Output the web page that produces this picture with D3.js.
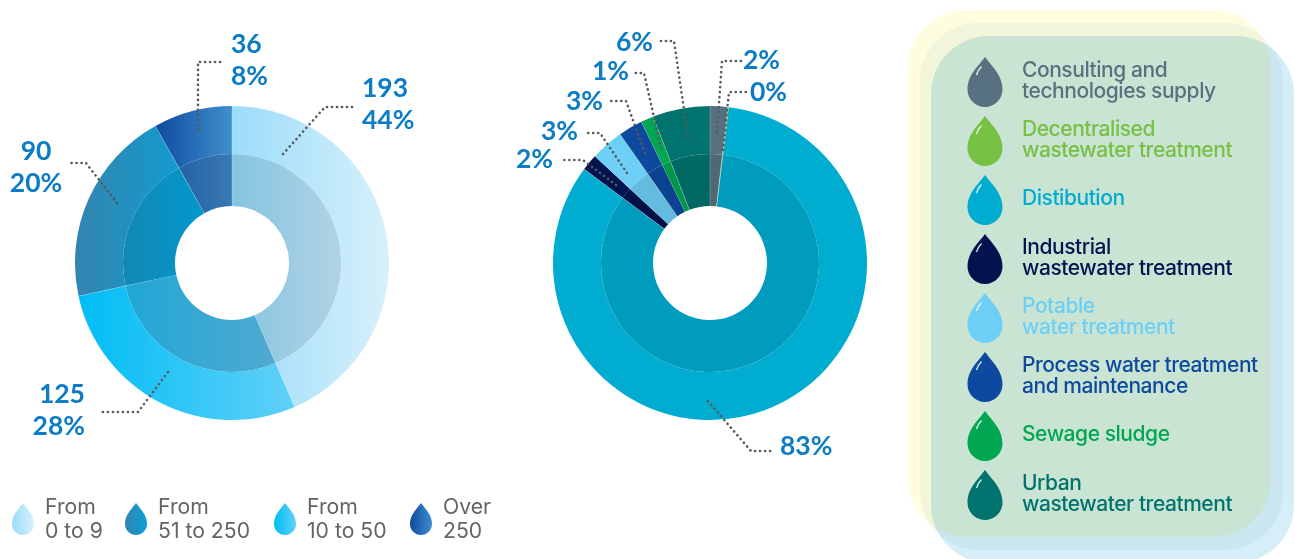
<!DOCTYPE html>
<html>
<head>
<meta charset="utf-8">
<script src="https://cdn.jsdelivr.net/npm/d3@7"></script>
<style>
  html, body { margin: 0; padding: 0; background: #fff; }
  svg { display: block; }
</style>
</head>
<body>
<script>
// left donut: plants by size
const sizeValues = [193, 125, 90, 36];
const sizeLabels = ['193', '125', '90', '36'];
const sizePercents = ['44%', '28%', '20%', '8%'];

// right donut: share by activity, same order as they go round clockwise from 12 o'clock
const activityValues = [1.8, 0.1, 83.3, 1.7, 3.4, 2.5, 1.3, 5.9];
const activityPercents = ['2%', '0%', '83%', '2%', '3%', '3%', '1%', '6%'];
const activityColors = ['#587180', '#76c043', '#00acd0', '#03134f', '#6dcff6', '#0d4a9f', '#00a651', '#00736f'];

const sizeLegendTop = ['From', 'From', 'From', 'Over'];
const sizeLegendBottom = ['0 to 9', '51 to 250', '10 to 50', '250'];

const activityLegend = [
  ['Consulting and', 'technologies supply'],
  ['Decentralised', 'wastewater treatment'],
  ['Distibution'],
  ['Industrial', 'wastewater treatment'],
  ['Potable', 'water treatment'],
  ['Process water treatment', 'and maintenance'],
  ['Sewage sludge'],
  ['Urban', 'wastewater treatment']
];
const legendOrder = [0, 1, 2, 3, 4, 5, 6, 7];

// gradient ends for the left donut, outer ring then inner ring
const sizeOuterStops = [['#9bdcf9', '#d8f0fb'], ['#00bdf5', '#62d0f8'], ['#3385ae', '#0aa0d8'], ['#0f4a9f', '#3f8fcd']];
const sizeInnerStops = [['#86c4e0', '#c2d9e6'], ['#12a6d8', '#56aacf'], ['#1d7ea6', '#0398cd'], ['#1a5a9e', '#3a78b2']];

const width = 1295;
const height = 559;
const rHole = 57;
const rMid = 109;
const rOuter = 157;
const leftCx = 232;
const rightCx = 710;
const cy = 263;
const labelBlue = '#0b7cc5';

const svg = d3.select('body').append('svg')
  .attr('width', width)
  .attr('height', height);
const defs = svg.append('defs');

const gradient = (id, stops, userBox) => {
  const g = defs.append('linearGradient').attr('id', id);
  if (userBox) {
    g.attr('gradientUnits', 'userSpaceOnUse')
      .attr('x1', userBox[0]).attr('x2', userBox[1]).attr('y1', 0).attr('y2', 0);
  }
  g.append('stop').attr('offset', 0).attr('stop-color', stops[0]);
  g.append('stop').attr('offset', 1).attr('stop-color', stops[1]);
};

// three panels of the same size stepped down to the right, multiplied together
const panels = [
  { x: 908, y: 10, fill: '#fffde0' },
  { x: 920, y: 23, fill: '#f1f7f7' },
  { x: 931, y: 36, fill: '#d6eef8' }
];
svg.append('g')
  .style('isolation', 'isolate')
  .selectAll('rect')
  .data(panels)
  .enter()
  .append('rect')
    .attr('x', d => d.x)
    .attr('y', d => d.y)
    .attr('width', 363)
    .attr('height', 527)
    .attr('rx', 58)
    .attr('fill', d => d.fill)
    .style('mix-blend-mode', 'multiply');

const pie = d3.pie().sort(null).startAngle(0).endAngle(2 * Math.PI);
const arcOuter = d3.arc().innerRadius(rMid).outerRadius(rOuter).padAngle(0.0015).padRadius(rOuter);
const arcInner = d3.arc().innerRadius(rHole).outerRadius(rMid).padAngle(0.0015).padRadius(rOuter);

// horizontal extent of a slice, the gradients run across it
const sliceBox = (d) => {
  const xs = [Math.sin(d.startAngle), Math.sin(d.endAngle)].map(s => s * rOuter);
  xs.push(Math.sin(d.startAngle) * rHole, Math.sin(d.endAngle) * rHole);
  if (d.startAngle < Math.PI / 2 && d.endAngle > Math.PI / 2) xs.push(rOuter);
  if (d.startAngle < 3 * Math.PI / 2 && d.endAngle > 3 * Math.PI / 2) xs.push(-rOuter);
  return [d3.min(xs), d3.max(xs)];
};

const leftG = svg.append('g').attr('transform', `translate(${leftCx},${cy})`);
const sizeArcs = pie(sizeValues);
sizeArcs.forEach((d, i) => {
  const box = sliceBox(d);
  gradient(`size-o-${i}`, sizeOuterStops[i], box);
  gradient(`size-i-${i}`, sizeInnerStops[i], box);
});
leftG.selectAll('path.outer')
  .data(sizeArcs)
  .enter()
  .append('path')
    .attr('class', 'outer')
    .attr('d', arcOuter)
    .attr('fill', (d, i) => `url(#size-o-${i})`);
leftG.selectAll('path.inner')
  .data(sizeArcs)
  .enter()
  .append('path')
    .attr('class', 'inner')
    .attr('d', arcInner)
    .attr('fill', (d, i) => `url(#size-i-${i})`);

const rightG = svg.append('g').attr('transform', `translate(${rightCx},${cy})`);
const activityArcs = pie(activityValues);
rightG.selectAll('path.outer')
  .data(activityArcs)
  .enter()
  .append('path')
    .attr('class', 'outer')
    .attr('d', arcOuter)
    .attr('fill', (d, i) => activityColors[i]);
rightG.selectAll('path.inner')
  .data(activityArcs)
  .enter()
  .append('path')
    .attr('class', 'inner')
    .attr('d', arcInner)
    .attr('fill', (d, i) => d3.color(activityColors[i]).darker(0.27));

// dotted leader lines, page coordinates
const sizeLeaders = [
  [[283, 154], [325, 107], [353, 107]],
  [[168, 372], [138, 412], [100, 412]],
  [[117, 203], [86, 163], [67, 163]],
  [[198, 130], [198, 62], [224, 62]]
];
const activityLeaders = [
  [[717, 132], [722, 61], [741, 61]],
  [[723, 150], [729, 92], [746, 92]],
  [[708, 401], [751, 451], [771, 451]],
  [[616, 185], [583, 160], [562, 160]],
  [[627, 173], [600, 133], [586, 133]],
  [[645, 153], [626, 101], [607, 101]],
  [[661, 148], [644, 73], [633, 73]],
  [[688, 137], [674, 41], [657, 41]]
];
const leaderLine = d3.line();
svg.append('g').selectAll('path')
  .data(sizeLeaders.concat(activityLeaders))
  .enter()
  .append('path')
    .attr('d', leaderLine)
    .attr('fill', 'none')
    .attr('stroke', '#58595b')
    .attr('stroke-width', 2.6)
    .attr('stroke-linecap', 'round')
    .attr('stroke-dasharray', '0.1 4.9');

// value labels
const sizeLabelPos = [
  { x: 362, y: 97, anchor: 'start' },
  { x: 85, y: 403, anchor: 'end' },
  { x: 36, y: 160, anchor: 'middle' },
  { x: 231, y: 53, anchor: 'start' }
];
const labelG = svg.append('g')
  .attr('font-family', 'Lato, sans-serif')
  .attr('font-weight', 700)
  .attr('font-size', 26.5)
  .attr('fill', labelBlue);
sizeLabelPos.forEach((p, i) => {
  labelG.append('text').attr('x', p.x).attr('y', p.y).attr('text-anchor', p.anchor).text(sizeLabels[i]);
  labelG.append('text').attr('x', p.x).attr('y', p.y + 32).attr('text-anchor', p.anchor).text(sizePercents[i]);
});
const activityLabelPos = [
  { x: 743, y: 69 }, { x: 750, y: 101 }, { x: 780, y: 455 }, { x: 516, y: 168 },
  { x: 541, y: 140 }, { x: 566, y: 110 }, { x: 592, y: 80 }, { x: 616, y: 51 }
];
labelG.selectAll('text.activity')
  .data(activityPercents)
  .enter()
  .append('text')
    .attr('class', 'activity')
    .attr('x', (d, i) => activityLabelPos[i].x)
    .attr('y', (d, i) => activityLabelPos[i].y)
    .text(d => d);

// water drop, cx/top is the tip, w and h are the full size
const dropPath = (cx, top, w, h) => {
  const r = w / 2;
  const cyDrop = top + h - r;
  const k = r * 0.5523;
  const p = d3.path();
  p.moveTo(cx, top);
  p.bezierCurveTo(cx + r * 0.35, top + h * 0.17, cx + r, top + h * 0.36, cx + r, cyDrop);
  p.bezierCurveTo(cx + r, cyDrop + k, cx + k, top + h, cx, top + h);
  p.bezierCurveTo(cx - k, top + h, cx - r, cyDrop + k, cx - r, cyDrop);
  p.bezierCurveTo(cx - r, top + h * 0.36, cx - r * 0.35, top + h * 0.17, cx, top);
  p.closePath();
  return p.toString();
};

// size legend, bottom left
const sizeLegendDropX = [23, 136, 285, 421];
const sizeLegendStops = [sizeOuterStops[0], sizeOuterStops[2], sizeOuterStops[1], sizeOuterStops[3]];
const sizeLegend = svg.append('g')
  .attr('font-family', 'Inter, sans-serif')
  .attr('font-size', 21.2)
  .attr('fill', '#636466');
sizeLegendDropX.forEach((x, i) => {
  gradient(`legend-${i}`, sizeLegendStops[i]);
  sizeLegend.append('path')
    .attr('d', dropPath(x, 503, 22, 32))
    .attr('fill', `url(#legend-${i})`);
  sizeLegend.append('text').attr('x', x + 22).attr('y', 514).text(sizeLegendTop[i]);
  sizeLegend.append('text').attr('x', x + 22).attr('y', 538).text(sizeLegendBottom[i]);
});

// activity legend, right panel
const rowY = d3.scalePoint().domain(legendOrder).range([57, 470]);
const rows = svg.append('g')
  .attr('font-family', 'Inter, sans-serif')
  .attr('font-weight', 500)
  .attr('font-size', 21)
  .selectAll('g')
  .data(activityLegend)
  .enter()
  .append('g');
rows.append('path')
  .attr('d', (d, i) => dropPath(985, rowY(i), 35, 50))
  .attr('fill', (d, i) => activityColors[i]);
rows.append('path')
  .attr('d', (d, i) => `M${976.5},${rowY(i) + 18}Q${978},${rowY(i) + 13} ${981.5},${rowY(i) + 9.5}`)
  .attr('fill', 'none')
  .attr('stroke', '#fff')
  .attr('stroke-opacity', 0.85)
  .attr('stroke-width', 1.4);
rows.each(function (d, i) {
  const mid = rowY(i) + 27;
  const g = d3.select(this);
  d.forEach((line, j) => {
    g.append('text')
      .attr('x', 1022)
      .attr('y', mid + 3 + (j - (d.length - 1) / 2) * 21)
      .attr('fill', activityColors[i])
      .attr('letter-spacing', -0.45)
      .text(line);
  });
});
</script>
</body>
</html>
